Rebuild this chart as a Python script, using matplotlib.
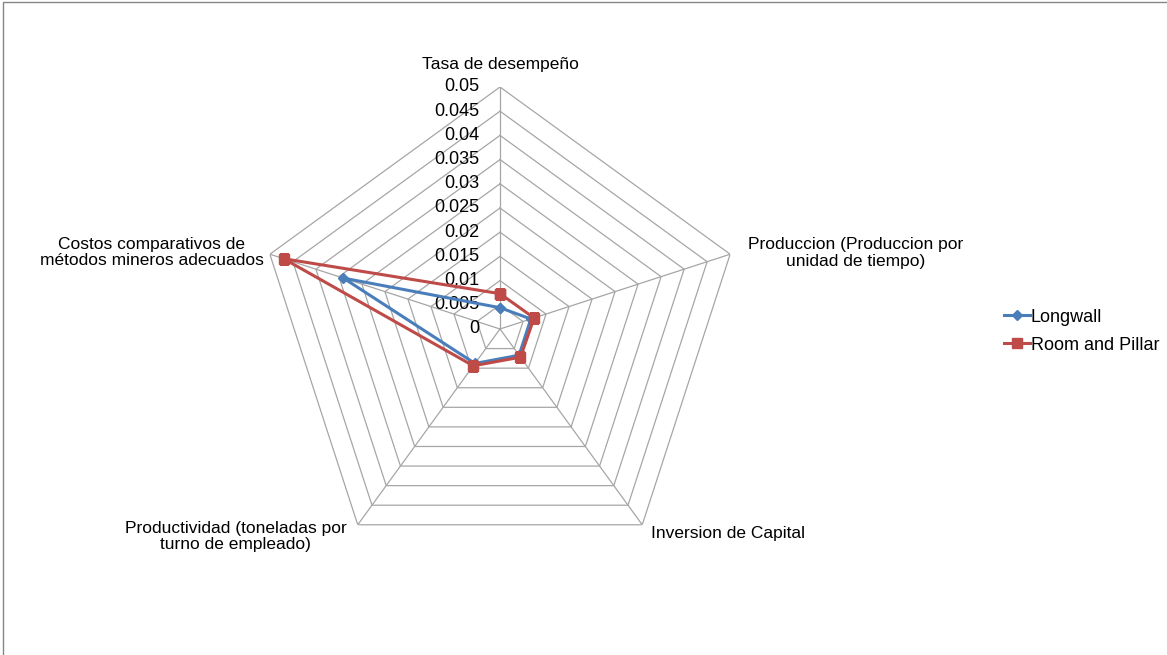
import matplotlib.pyplot as plt
import numpy as np
from matplotlib.patches import Rectangle

plt.rcParams['font.family'] = ['Liberation Sans', 'DejaVu Sans']

categorias = ['Tasa de desempeño',
              'Produccion (Produccion por\nunidad de tiempo)',
              'Inversion de Capital',
              'Productividad (toneladas por\nturno de empleado)',
              'Costos comparativos de\nmétodos mineros adecuados']
longwall = [0.0044, 0.0067, 0.0067, 0.0088, 0.034]
room_pillar = [0.0073, 0.0074, 0.0072, 0.0094, 0.047]
niveles = [0, 0.005, 0.01, 0.015, 0.02, 0.025, 0.03, 0.035, 0.04, 0.045, 0.05]
etiquetas_niveles = ['0', '0.005', '0.01', '0.015', '0.02', '0.025', '0.03',
                     '0.035', '0.04', '0.045', '0.05']

azul = '#4A7EBB'
rojo = '#BE4B48'
gris = '#A6A6A6'

W, H = 1167, 655
fig = plt.figure(figsize=(W / 100, H / 100), dpi=100)

# marco gris del area del grafico
fig.patches.append(Rectangle((3 / W, -0.1), 1.2, 1.1 - 2.5 / H,
                             transform=fig.transFigure, fill=False,
                             edgecolor='#868686', linewidth=1.0))

cx, cy, R = 500, 329, 242
ax = fig.add_axes([(cx - R) / W, 1 - (cy + R) / H, 2 * R / W, 2 * R / H],
                  projection='polar')
ax.set_theta_offset(np.pi / 2)
ax.set_theta_direction(-1)
ax.set_ylim(0, 0.05)
ax.grid(False)
ax.spines['polar'].set_visible(False)
ax.set_xticks([])
ax.set_yticks([])
ax.patch.set_alpha(0)

n = len(categorias)
ang = np.arange(n) * 2 * np.pi / n
ang_c = np.append(ang, ang[0])

# anillos pentagonales y radios
for nv in niveles[1:]:
    ax.plot(ang_c, [nv] * (n + 1), color=gris, lw=0.9, zorder=1)
for a in ang:
    ax.plot([a, a], [0, 0.05], color=gris, lw=0.9, zorder=1)

# etiquetas del eje radial
for nv, et in zip(niveles, etiquetas_niveles):
    ax.annotate(et, xy=(0, nv), xytext=(-14.5, 0), textcoords='offset points',
                ha='right', va='center', fontsize=13, color='black')

# nombres de las categorias
desplaz = [(0, 16.5, 'center'), (90, 1, 'center'), (6.5, -6, 'left'),
           (-88, -8.5, 'center'), (-85, 1.3, 'center')]
for a, cat, (dx, dy, ha) in zip(ang, categorias, desplaz):
    ax.annotate(cat, xy=(a, 0.05), xytext=(dx, dy), textcoords='offset points',
                ha=ha, va='center', fontsize=12.5, multialignment='center',
                linespacing=1.12)

ax.plot(ang_c, longwall + longwall[:1], color=azul, lw=2.2, marker='D',
        markersize=5, label='Longwall', zorder=3)
ax.plot(ang_c, room_pillar + room_pillar[:1], color=rojo, lw=2.2, marker='s',
        markersize=7, label='Room and Pillar', zorder=3)

fig.legend(loc='upper left', bbox_to_anchor=(1000 / W, 1 - 305 / H),
           frameon=False, fontsize=13, handlelength=1.45, handletextpad=0.05,
           labelspacing=0.62, borderaxespad=0, borderpad=0.2)

fig.savefig('out.png', dpi=100)
